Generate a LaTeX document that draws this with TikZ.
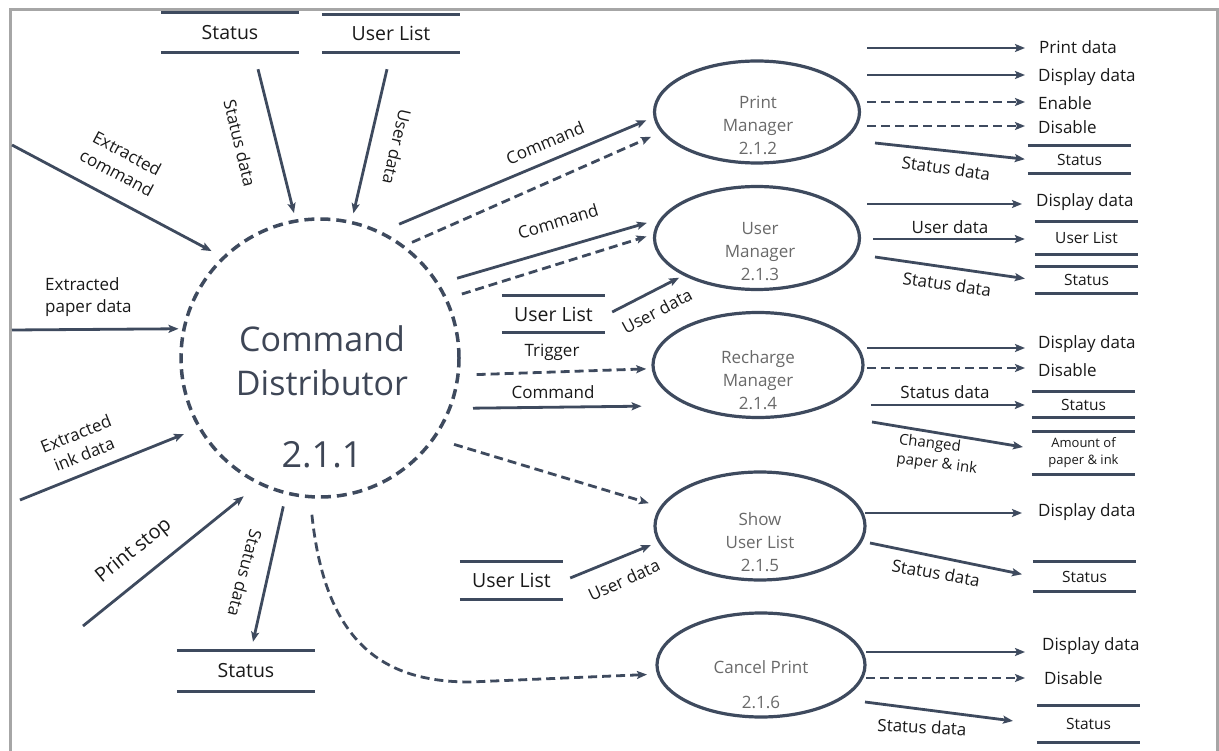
\documentclass[tikz,border=0pt]{standalone}
\usepackage{fontspec}
\setmainfont{Open Sans}
\usetikzlibrary{arrows.meta,shapes.geometric}
\definecolor{lc}{RGB}{62,74,94}
\definecolor{ctext}{RGB}{62,70,86}
\definecolor{etext}{RGB}{105,105,105}
\definecolor{framec}{RGB}{166,166,166}
\definecolor{ltext}{RGB}{25,25,25}
\newcommand\myfs[2]{\fontsize{#1}{#2}\selectfont}
\begin{document}
\begin{tikzpicture}[x=1pt,y=-1pt,
  flow/.style={draw=lc, line width=2.8pt, -{Stealth[length=10pt,width=8pt,inset=2pt]}},
  dflow/.style={flow, dash pattern=on 9pt off 5pt},
  sline/.style={draw=lc, line width=2.8pt, -},
  store/.style n args={2}{minimum width=#1, minimum height=#2, inner sep=0pt, text=ltext,
     append after command={(\tikzlastnode.north west) edge[sline] (\tikzlastnode.north east)
                           (\tikzlastnode.south west) edge[sline] (\tikzlastnode.south east)}},
  bst/.style={font=\myfs{19.5}{23}},
  rst/.style={font=\myfs{15.5}{19}},
  proc/.style={ellipse, draw=lc, line width=3.2pt, inner sep=0pt},
  ptext/.style={text=etext, font=\myfs{17}{23}, align=center, inner sep=0pt},
  lbl/.style={text=ltext, font=\myfs{17}{22}, inner sep=0pt, align=center},
  rtxt/.style={text=ltext, font=\myfs{17}{22}, inner sep=0pt, anchor=west},
]
\useasboundingbox (0,0) rectangle (1219,751);
\clip (0,0) rectangle (1219,751);
% frame
\draw[framec, line width=3pt] (10,770) -- (10,9.5) -- (1217,9.5) -- (1217,770);

% central process
\node[circle, draw=lc, line width=3.5pt, dash pattern=on 10pt off 6pt, minimum size=278pt, inner sep=0pt] (cd) at (320,358) {};
\node[text=ctext, font=\myfs{34}{44}, align=center, inner sep=0pt] (cdt) at (322,361) {Command\\Distributor};
\node[text=ctext, font=\myfs{36}{40}, inner sep=0pt] (cdn) at (322,455) {2.1.1};

% sub processes
\node[proc, minimum width=205pt, minimum height=102pt] (pm) at (757,112) {};
\node[ptext] (pmt) at (758,125) {Print\\Manager\\2.1.2};
\node[proc, minimum width=205pt, minimum height=103pt] (um) at (757,238) {};
\node[ptext] (umt) at (760,252) {User\\Manager\\2.1.3};
\node[proc, minimum width=210pt, minimum height=105pt] (rm) at (758,365) {};
\node[ptext] (rmt) at (758,380) {Recharge\\Manager\\2.1.4};
\node[proc, minimum width=210pt, minimum height=108pt] (su) at (760,526) {};
\node[ptext] (sut) at (760,542) {Show\\User List\\2.1.5};
\node[proc, minimum width=208pt, minimum height=104pt] (cp) at (761,665) {};
\node[ptext] (cpt) at (761,685) {Cancel Print\\[12pt]2.1.6};

% data stores (left / centre)
\node[store={138pt}{39pt}, bst] (st1) at (230,32.5) {Status};
\node[store={138pt}{37pt}, bst] (ul1) at (391,33.5) {User List};
\node[store={138pt}{40pt}, bst] (st3) at (246,671) {Status};
\node[store={103pt}{36pt}, bst] (ul2) at (553.5,314) {User List};
\node[store={103pt}{37pt}, bst] (ul3) at (511.5,580.5) {User List};

% data stores (right)
\node[store={103pt}{27pt}, rst] (r1) at (1079.5,159.5) {Status};
\node[store={103pt}{32pt}, rst] (r2) at (1086.5,238) {User List};
\node[store={103pt}{26pt}, rst] (r3) at (1086.5,280) {Status};
\node[store={103pt}{25pt}, rst] (r4) at (1083.5,404.5) {Status};
\node[store={103pt}{42pt}, font=\myfs{13}{17}, align=center] (r5) at (1083.5,453) {Amount of\\paper \& ink};
\node[store={103pt}{29pt}, rst] (r6) at (1084.5,576.5) {Status};
\node[store={103pt}{36pt}, rst] (r7) at (1088.5,724) {Status};

% external inputs (free ends)
\coordinate (xc) at (12,145);
\coordinate (xp) at (12,330);
\coordinate (xi) at (20,500);
\coordinate (xs) at (83,626);

% inputs to the distributor
\draw[flow, shorten >=12.1pt] (xc) -- (cd.134.5);
\draw[flow, shorten >=6.5pt] ([xshift=28pt,yshift=-17pt]st1.south) -- (cd.100.6);
\draw[flow, shorten >=7.7pt] ([xshift=-4pt,yshift=-17pt]ul1.south) -- (cd.77);
\draw[flow, shorten >=3.8pt] (xp) -- (cd.168.4);
\draw[flow, shorten >=15.2pt] (xi) -- (cd.210.4);
\draw[flow, shorten >=18.7pt] (xs) -- (cd.244.25);
\draw[flow, shorten <=12.1pt] (cd.256.6) -- ([xshift=7pt,yshift=9pt]st3.north);

\node[lbl, rotate=-28] (l1) at (122,163) {Extracted\\command};
\node[lbl, rotate=-76.5] (l2) at (240,143) {Status data};
\node[lbl, rotate=-103] (l3) at (397,147) {User data};
\node[lbl, anchor=west, align=left] (l4) at (45,297) {Extracted\\paper data};
\node[lbl, rotate=22] (l5) at (80,444) {Extracted\\ink data};
\node[lbl, rotate=39, font=\myfs{20}{24}] (l6) at (134,551) {Print stop};
\node[lbl, rotate=-105] (l7) at (245,573) {Status data};

% distributor to sub processes
\draw[flow, shorten <=18.9pt, shorten >=7.7pt] (cd.64.6) -- (pm.183.2);
\draw[dflow, shorten <=8pt, shorten >=11pt] (cd.53.5) -- (pm.192.5);
\draw[flow, shorten <=18.5pt, shorten >=13.4pt] (cd.32.4) -- (um.169.6);
\draw[dflow, shorten <=15pt, shorten >=7pt] (cd.25.3) -- (um.178.4);
\draw[flow, shorten >=4.8pt] ([xshift=7pt,yshift=2pt]ul2.east) -- (um.207.5);
\draw[dflow, shorten <=16.9pt, shorten >=5.4pt] (cd.353.7) -- (rm.182.6);
\draw[flow, shorten <=21.6pt, shorten >=46pt] (cd.339.8) -- (rm.210.8);
\draw[dflow, shorten <=19.6pt, shorten >=11.8pt] (cd.325.3) -- (su.169.2);
\draw[flow, shorten >=7.6pt] ([xshift=7pt,yshift=2.5pt]ul3.east) -- (su.189);
\draw[dflow, shorten <=16.4pt, shorten >=10pt] (cd.266) .. controls (325,640) and (380,682) .. (470,682) -- (cp.185.6);

\node[lbl, rotate=23] (l8) at (545,143) {Command};
\node[lbl, rotate=17] (l9) at (558,221) {Command};
\node[lbl, rotate=28] (l10) at (657,311) {User data};
\node[lbl] (l11) at (552,352) {Trigger};
\node[lbl] (l12) at (553,392) {Command};
\node[lbl, rotate=25] (l13) at (624,580) {User data};

% outputs of Print Manager
\coordinate (pa1) at (867,48); \coordinate (pa2) at (867,75);
\coordinate (pa3) at (867,102); \coordinate (pa4) at (867,126);
\coordinate (pa5) at (875,143);
\node[rtxt] (pt1) at (1039,47) {Print data};
\node[rtxt] (pt2) at (1038,77) {Display data};
\node[rtxt] (pt3) at (1038,103) {Enable};
\node[rtxt] (pt4) at (1038,127) {Disable};
\draw[flow, shorten >=14pt] (pa1) -- (pa1 -| pt1.west);
\draw[flow, shorten >=13pt] (pa2) -- (pa2 -| pt2.west);
\draw[dflow, shorten >=13pt] (pa3) -- (pa3 -| pt3.west);
\draw[dflow, shorten >=13pt] (pa4) -- (pa4 -| pt4.west);
\draw[flow, shorten >=3pt] (pa5) -- (r1.west);
\node[lbl, rotate=-8] (l14) at (946,168) {Status data};

% outputs of User Manager
\coordinate (ua1) at (867,204); \coordinate (ua2) at (873,239);
\coordinate (ua3) at (875,257);
\node[rtxt] (ut1) at (1036,202) {Display data};
\draw[flow, shorten >=14pt] (ua1) -- (ua1 -| ut1.west);
\draw[flow, shorten >=10pt] (ua2) -- (ua2 -| r2.west);
\draw[flow, shorten >=10pt] (ua3) -- (r3.west);
\node[lbl] (l15) at (950,227) {User data};
\node[lbl, rotate=-8] (l16) at (947,284) {Status data};

% outputs of Recharge Manager
\coordinate (ra1) at (867,348); \coordinate (ra2) at (867,368);
\coordinate (ra3) at (871,405); \coordinate (ra4) at (872,422);
\node[rtxt] (rt1) at (1038,344) {Display data};
\node[rtxt] (rt2) at (1038,370) {Disable};
\draw[flow, shorten >=13pt] (ra1) -- (ra1 -| rt1.west);
\draw[dflow, shorten >=13pt] (ra2) -- (ra2 -| rt2.west);
\draw[flow, shorten >=7pt] (ra3) -- (ra3 -| r4.west);
\draw[flow, shorten >=9pt] (ra4) -- ([yshift=4.5pt]r5.west);
\node[lbl] (l17) at (945,392) {Status data};
\node[lbl, rotate=-7, align=left, font=\myfs{15}{19}] (l18) at (938,455) {Changed\\paper \& ink};

% outputs of Show User List
\coordinate (sa1) at (865,513); \coordinate (sa2) at (870,543);
\node[rtxt] (sst1) at (1038,512) {Display data};
\draw[flow, shorten >=16pt] (sa1) -- (sa1 -| sst1.west);
\draw[flow, shorten >=11pt] (sa2) -- (r6.west);
\node[lbl, rotate=-10] (l19) at (936,573) {Status data};

% outputs of Cancel Print
\coordinate (ca1) at (866,652); \coordinate (ca2) at (866,678);
\coordinate (ca3) at (865,702);
\node[rtxt] (ct1) at (1042,646) {Display data};
\node[rtxt] (ct2) at (1044,678) {Disable};
\draw[flow, shorten >=17pt] (ca1) -- (ca1 -| ct1.west);
\draw[dflow, shorten >=19pt] (ca2) -- (ca2 -| ct2.west);
\draw[flow, shorten >=24pt] (ca3) -- (r7.west);
\node[lbl, rotate=-3] (l20) at (922,727) {Status data};
\end{tikzpicture}
\end{document}
